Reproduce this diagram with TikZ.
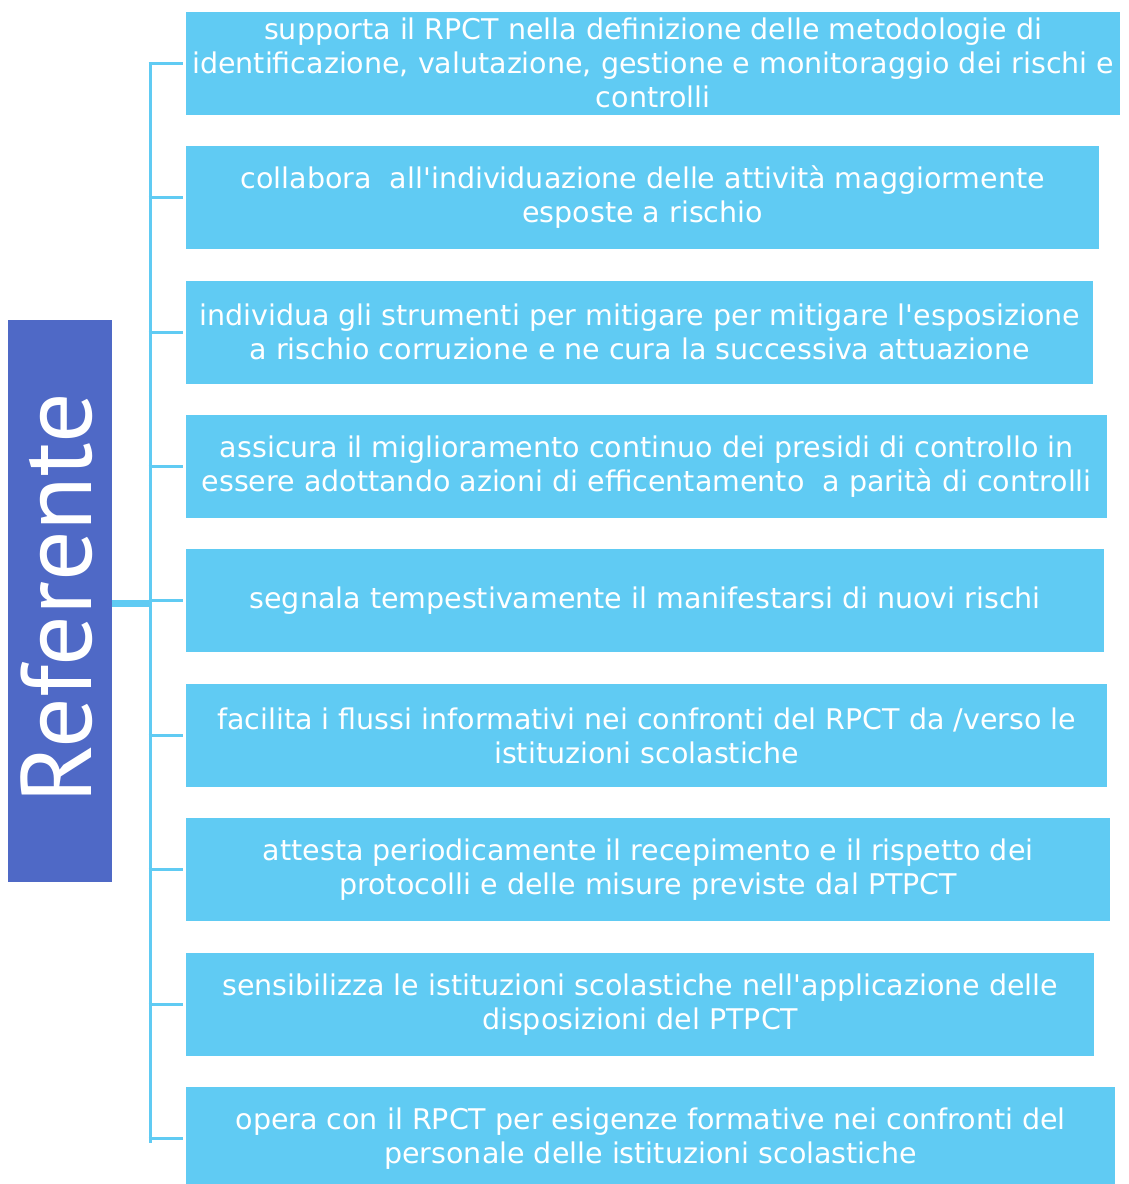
\documentclass[tikz,border=0pt]{standalone}
\usepackage{fontspec}
\setmainfont{DejaVu Sans}
\newfontfamily\reffont{PT Sans}
\definecolor{boxblue}{RGB}{96,203,243}
\definecolor{mainblue}{RGB}{79,105,198}
\begin{document}
\begin{tikzpicture}[x=1pt,y=-1pt,
  item/.style={fill=boxblue,draw=none,anchor=west,text=white,align=center,inner sep=0pt,
    minimum height=103pt,font=\fontsize{28.5}{34}\selectfont},
  bus/.style={draw=boxblue,line width=3pt}]
\useasboundingbox (0,0) rectangle (1128,1184);
\node[fill=mainblue,minimum width=104pt,minimum height=562pt,inner sep=0pt] (ref) at (60,601) {};
\node[rotate=90,text=white,font=\reffont\fontsize{100}{110}\selectfont] (reflabel) at (57,598) {Referente};
\node[item,minimum width=934pt] (b1) at (186,63) {supporta il RPCT nella definizione delle metodologie di\\identificazione, valutazione, gestione e monitoraggio dei rischi e\\controlli};
\node[item,minimum width=913pt] (b2) at (186,197.5) {collabora \ all\textquotesingle individuazione delle attività maggiormente\\esposte a rischio};
\node[item,minimum width=907pt] (b3) at (186,332) {individua gli strumenti per mitigare per mitigare l\textquotesingle esposizione\\a rischio corruzione e ne cura la successiva attuazione};
\node[item,minimum width=921pt] (b4) at (186,466.5) {assicura il miglioramento continuo dei presidi di controllo in\\essere adottando azioni di efficentamento \ a parità di controlli};
\node[item,minimum width=918pt] (b5) at (186,600.5) {segnala tempestivamente il manifestarsi di nuovi rischi};
\node[item,minimum width=921pt] (b6) at (186,735.5) {facilita i flussi informativi nei confronti del RPCT da /verso le\\istituzioni scolastiche};
\node[item,minimum width=924pt] (b7) at (186,869.5) {attesta periodicamente il recepimento e il rispetto dei\\protocolli e delle misure previste dal PTPCT};
\node[item,minimum width=908pt] (b8) at (186,1004.5) {sensibilizza le istituzioni scolastiche nell\textquotesingle applicazione delle\\disposizioni del PTPCT};
\node[item,minimum width=929pt] (b9) at (186,1138.5) {opera con il RPCT per esigenze formative nei confronti del\\personale delle istituzioni scolastiche};
\coordinate (t1) at (150,63);
\coordinate (t9) at (150,1143);
\draw[bus] (t1) -- (t9);
\foreach \i in {1,...,9} {
  \draw[bus] (150,0 |- b\i.west) ++(-1.5,0) -- ([xshift=-3pt]b\i.west);
}
\coordinate (mid) at (151.5,603);
\draw[draw=boxblue,line width=7pt] (ref.east |- mid) -- (mid);
\end{tikzpicture}
\end{document}
